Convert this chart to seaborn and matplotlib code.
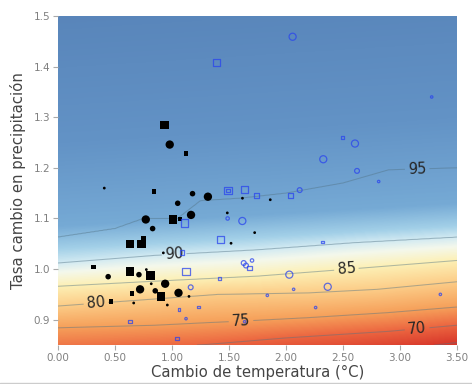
import numpy as np
import pandas as pd
import matplotlib
matplotlib.use("Agg")
import matplotlib.pyplot as plt
import seaborn as sns
from matplotlib.colors import LinearSegmentedColormap, Normalize
from matplotlib.lines import Line2D

# ---------------- data ----------------
# black (filled) markers
blk_x = [0.98, 1.18, 1.315, 1.05, 0.77, 1.167, 0.83, 0.44, 0.71, 0.94, 0.72, 0.853, 1.057,
         0.406, 0.924, 0.775, 0.818, 1.149, 0.664, 0.959, 1.485, 1.518, 1.725, 1.618, 1.862,
         0.933, 1.123, 0.842, 1.006, 1.07, 0.632, 0.731, 0.749, 0.313, 0.632, 0.81, 0.649, 0.904, 0.465]
blk_y = [1.246, 1.149, 1.143, 1.130, 1.098, 1.107, 1.080, 0.985, 0.989, 0.971, 0.960, 0.957, 0.953,
         1.160, 1.032, 0.999, 0.971, 0.946, 0.933, 0.929, 1.111, 1.051, 1.072, 1.140, 1.137,
         1.285, 1.228, 1.153, 1.098, 1.099, 1.049, 1.049, 1.060, 1.004, 0.995, 0.987, 0.951, 0.946, 0.936]
blk_shape = ["circle"] * 25 + ["square"] * 14
blk_size = [4, 3, 4, 3, 4, 4, 3, 3, 3, 4, 4, 3, 4,
            1, 1, 1, 1, 1, 1, 1, 1, 1, 1, 1, 1,
            4, 2, 2, 4, 2, 4, 4, 2, 2, 4, 4, 2, 4, 2]

# blue (open) markers
blu_x = [2.058, 1.392, 3.278, 2.497, 2.605, 2.327, 2.623, 2.813, 1.491, 1.491, 1.637, 1.740, 2.038,
         2.12, 1.488, 1.617, 1.111, 1.424, 2.32, 1.088, 1.629, 1.649, 1.702, 1.678, 1.123, 2.029,
         1.418, 1.164, 2.366, 1.836, 2.067, 3.354, 2.26, 1.064, 1.234, 1.123, 1.637, 0.632, 1.044]
blu_y = [1.459, 1.408, 1.340, 1.260, 1.248, 1.217, 1.194, 1.173, 1.155, 1.155, 1.158, 1.146, 1.146,
         1.156, 1.100, 1.095, 1.091, 1.058, 1.053, 1.032, 1.012, 1.007, 1.017, 1.002, 0.996, 0.989,
         0.981, 0.964, 0.965, 0.948, 0.960, 0.950, 0.924, 0.920, 0.925, 0.902, 0.896, 0.896, 0.863]
blu_shape = ["circle", "square", "circle", "square", "circle", "circle", "circle", "circle", "square", "square",
             "square", "square", "square", "circle", "circle", "circle", "square", "square", "square", "square",
             "circle", "circle", "circle", "square", "square", "circle", "square", "circle", "circle", "circle",
             "circle", "circle", "circle", "square", "square", "circle", "circle", "square", "square"]
blu_size = [4, 4, 1, 1, 4, 4, 3, 1, 4, 2, 4, 3, 3,
            3, 2, 4, 4, 4, 1, 3, 3, 3, 2, 3, 4, 4,
            1, 3, 4, 1, 1, 1, 1, 1, 1, 1, 1, 2, 2]

# contour lines (level, x knots, y positions)
c65_x, c65_y = [0.0, 2.5, 3.5], [0.79, 0.83, 0.855]
c70_x, c70_y = [0.0, 1.3, 2.0, 2.9, 3.5], [0.835, 0.851, 0.864, 0.877, 0.889]
c75_x, c75_y = [0.0, 0.85, 1.3, 1.6, 2.2, 2.9, 3.5], [0.884, 0.889, 0.894, 0.897, 0.904, 0.914, 0.925]
c80_x, c80_y = [0.0, 0.85, 1.4, 2.2, 2.8, 3.5], [0.927, 0.941, 0.950, 0.953, 0.960, 0.975]
c85_x, c85_y = [0.0, 0.85, 1.75, 2.5, 3.5], [0.966, 0.976, 0.986, 0.999, 1.017]
c90_x, c90_y = [0.0, 0.85, 1.75, 2.6, 3.5], [1.012, 1.027, 1.038, 1.052, 1.063]
c95_x = [0.0, 0.5, 0.75, 1.05, 1.25, 1.6, 2.0, 2.5, 2.9, 3.5]
c95_y = [1.063, 1.08, 1.10, 1.10, 1.135, 1.14, 1.15, 1.17, 1.196, 1.2]
extra_levels = [65]
label_levels = [70, 75, 80, 85, 90, 95]
label_pos = [(3.15, 0.882), (1.605, 0.899), (0.333, 0.932), (2.53, 0.999), (1.02, 1.024), (3.15, 1.202)]

# background colour bands above the 90 line
b93_x, b93_y = [0.0, 3.5], [1.04, 1.085]
b97_x, b97_y = [0.0, 3.5], [1.085, 1.13]
b101_x, b101_y = [0.0, 3.5], [1.25, 1.30]
b106_x, b106_y = [0.0, 3.5], [1.55, 1.60]
bg_levels = [60, 65, 70, 75, 80, 85, 88, 90, 93, 97, 101, 106]
bg_colors = ["#c0232a", "#d93a2c", "#ec6640", "#f6a05a", "#fccd88", "#fdf0b5", "#f4f8ec",
             "#d2eaf2", "#a3d0e8", "#76aad5", "#6393c6", "#5783b8"]

xticks = [0.0, 0.5, 1.0, 1.5, 2.0, 2.5, 3.0, 3.5]
yticks = [0.9, 1.0, 1.1, 1.2, 1.3, 1.4, 1.5]
xlabel = "Cambio de temperatura (°C)"
ylabel = "Tasa cambio en precipitación"

# ---------------- figure ----------------
sns.set_theme(style="white")
plt.rcParams["font.family"] = ["DejaVu Sans"]

fig = plt.figure(figsize=(4.72, 3.84), dpi=100)
ax = fig.add_axes([58 / 472, 1 - 345 / 384, (457 - 58) / 472, (345 - 16) / 384])

gx = np.linspace(0, 3.5, 281)
gy = np.linspace(0.85, 1.5, 521)


def field(lines):
    Z = np.empty((gy.size, gx.size))
    lv = np.array([l[0] for l in lines], dtype=float)
    for j, x in enumerate(gx):
        ly = np.array([np.interp(x, l[1], l[2]) for l in lines])
        o = np.argsort(ly)
        Z[:, j] = np.interp(gy, ly[o], lv[o])
    return Z


low = [(60, [0, 3.5], [0.75, 0.78]), (65, c65_x, c65_y), (70, c70_x, c70_y), (75, c75_x, c75_y),
       (80, c80_x, c80_y), (85, c85_x, c85_y), (90, c90_x, c90_y)]
Zl = field(low + [(95, c95_x, c95_y), (100, [0, 3.5], [1.4, 1.45])])
Zc = field(low + [(93, b93_x, b93_y), (97, b97_x, b97_y), (101, b101_x, b101_y), (106, b106_x, b106_y)])

vmin, vmax = bg_levels[0], bg_levels[-1]
cmap = LinearSegmentedColormap.from_list(
    "bg", [((v - vmin) / (vmax - vmin), c) for v, c in zip(bg_levels, bg_colors)])
ax.imshow(Zc, extent=[0, 3.5, 0.85, 1.5], origin="lower", aspect="auto", cmap=cmap,
          norm=Normalize(vmin, vmax), interpolation="bilinear", zorder=0)

line_rgba = [(0.32, 0.45, 0.52, 0.45)]
ax.contour(gx, gy, Zl, levels=extra_levels, colors=line_rgba, linewidths=0.75, zorder=1)
cs = ax.contour(gx, gy, Zl, levels=label_levels, colors=line_rgba, linewidths=0.75, zorder=1)
ax.clabel(cs, manual=label_pos, fmt="%d", fontsize=10.5,
          colors="#262626", inline=True, inline_spacing=3)

blk = pd.DataFrame(dict(x=blk_x, y=blk_y, shape=blk_shape, size=blk_size))
blu = pd.DataFrame(dict(x=blu_x, y=blu_y, shape=blu_shape, size=blu_size))
mk = {"circle": "o", "square": "s"}

sns.scatterplot(data=blk, x="x", y="y", style="shape", size="size", markers=mk,
                sizes={1: 4, 2: 12, 3: 16, 4: 36}, color="black", linewidth=0,
                legend=False, ax=ax, zorder=3)
sns.scatterplot(data=blu, x="x", y="y", style="shape", size="size", markers=mk,
                sizes={1: 3, 2: 6, 3: 12, 4: 26}, facecolor="none", edgecolor="#2a44ee",
                linewidth=0.9, alpha=0.75, legend=False, ax=ax, zorder=4)

ax.set_xlim(0, 3.5)
ax.set_ylim(0.85, 1.5)
ax.set_xticks(xticks)
ax.set_xticklabels([f"{v:.2f}" for v in xticks])
ax.set_yticks(yticks)
ax.set_yticklabels([f"{v:.1f}" for v in yticks])
for s in ax.spines.values():
    s.set_visible(False)
ax.tick_params(bottom=True, left=True, length=3.5, width=0.8, color="#aaaaaa",
               labelcolor="#808080", labelsize=7.5, pad=2)
ax.set_xlabel(xlabel, fontsize=10.7, color="#444444")
ax.set_ylabel(ylabel, fontsize=10.7, color="#444444")
ax.xaxis.set_label_coords(0.5, -0.06)
ax.yaxis.set_label_coords(-0.08, 0.5)

fig.add_artist(Line2D([0, 1], [1 - 382.5 / 384] * 2, transform=fig.transFigure,
                      color="#cccccc", linewidth=1))

fig.savefig("out.png", dpi=100)
